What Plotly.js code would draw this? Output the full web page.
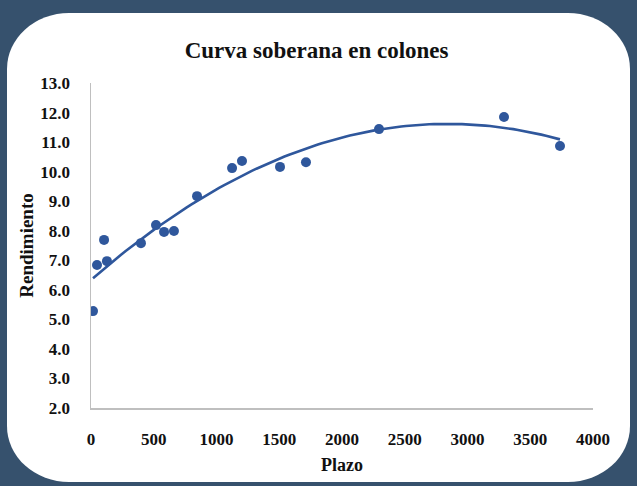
<!DOCTYPE html>
<html><head><meta charset="utf-8">
<script src="https://cdn.plot.ly/plotly-3.0.1.min.js"></script>
<style>
html,body{margin:0;padding:0;width:637px;height:486px;overflow:hidden;background:#36516d;}
#card{position:absolute;left:7px;top:13px;width:623px;height:469px;background:#fff;border-radius:62px/56px;}
#chart{position:absolute;left:0;top:0;width:637px;height:486px;}
</style></head>
<body><div id="card"></div><div id="chart"></div>
<script>
const plazo = [16, 48, 104, 127, 398, 518, 582, 661, 845, 1124, 1203, 1506, 1713, 2295, 3291, 3737];
const rendimiento = [5.28, 6.84, 7.69, 6.97, 7.58, 8.19, 7.96, 7.99, 9.17, 10.12, 10.36, 10.16, 10.32, 11.44, 11.85, 10.87];
const xTicks = [0, 500, 1000, 1500, 2000, 2500, 3000, 3500, 4000];
const yTicks = [2, 3, 4, 5, 6, 7, 8, 9, 10, 11, 12, 13];

// quadratic least-squares trend (as in the spreadsheet trendline)
function quadFit(x, y){
  let n=x.length,S=[0,0,0,0,0],T=[0,0,0];
  for(let i=0;i<n;i++){let p=1;for(let k=0;k<5;k++){S[k]+=p;if(k<3)T[k]+=p*y[i];p*=x[i];}}
  let A=[[S[0],S[1],S[2],T[0]],[S[1],S[2],S[3],T[1]],[S[2],S[3],S[4],T[2]]];
  for(let c=0;c<3;c++){for(let r=c+1;r<3;r++){let f=A[r][c]/A[c][c];for(let k=c;k<4;k++)A[r][k]-=f*A[c][k];}}
  let b=[0,0,0];for(let r=2;r>=0;r--){let s=A[r][3];for(let k=r+1;k<3;k++)s-=A[r][k]*b[k];b[r]=s/A[r][r];}
  return b;
}
const coef = quadFit(plazo, rendimiento);
const xmin = Math.min(...plazo), xmax = Math.max(...plazo);
const trendX = [], trendY = [];
for(let i=0;i<=100;i++){const xv=xmin+(xmax-xmin)*i/100;trendX.push(xv);trendY.push(coef[0]+coef[1]*xv+coef[2]*xv*xv);}

const blue = '#2f579c';
const font = {family:'"Liberation Serif","DejaVu Serif",serif', color:'#111'};
Plotly.newPlot('chart', [
  {x: trendX, y: trendY, mode:'lines', line:{color:blue, width:2.6}, hoverinfo:'skip'},
  {x: plazo, y: rendimiento, mode:'markers', marker:{color:blue, size:10}}
], {
  width:637, height:486, showlegend:false,
  paper_bgcolor:'rgba(0,0,0,0)', plot_bgcolor:'rgba(0,0,0,0)',
  margin:{l:91, r:44, t:83, b:78},
  title:{text:'<b>Curva soberana en colones</b>', x:0.497, xanchor:'center', y:0.897, yanchor:'middle', font:Object.assign({}, font, {size:23})},
  xaxis:{range:[0,4000], tickvals:xTicks, ticktext:xTicks.map(v=>'<b>'+v+'</b>'), showgrid:false, zeroline:false,
    showline:true, linecolor:'#bfbfbf', linewidth:1.5, ticks:'', ticklabelstandoff:15,
    tickfont:Object.assign({}, font, {size:17}),
    title:{text:'<b>Plazo</b>', font:Object.assign({}, font, {size:18}), standoff:10}},
  yaxis:{range:[2,13], tickvals:yTicks, ticktext:yTicks.map(v=>'<b>'+v.toFixed(1)+'</b>'), showgrid:false, zeroline:false,
    showline:true, linecolor:'#bfbfbf', linewidth:1.5, ticks:'', ticklabelstandoff:16,
    tickfont:Object.assign({}, font, {size:17}),
    title:{text:'<b>Rendimiento</b>', font:Object.assign({}, font, {size:19}), standoff:1}}
}, {displayModeBar:false, staticPlot:true});
</script></body></html>
